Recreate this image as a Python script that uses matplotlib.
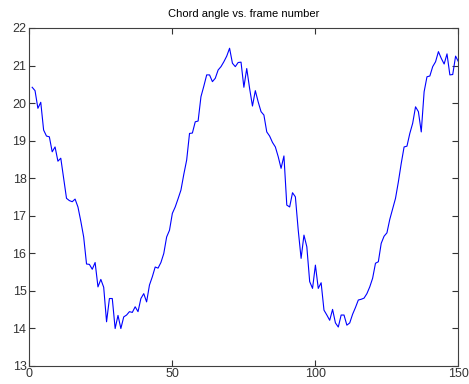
import numpy as np
import matplotlib
matplotlib.use('Agg')
import matplotlib.pyplot as plt

plt.rcParams['font.family'] = ['Liberation Sans', 'DejaVu Sans']

# 帧号和弦角 (从图上读出来的)
frames = np.arange(1, 151)
chord_angle = [
    20.42, 20.33, 19.86, 20.02, 19.28, 19.12, 19.10, 18.70, 18.83, 18.45,
    18.53, 18.00, 17.46, 17.40, 17.37, 17.44, 17.23, 16.85, 16.43, 15.71,
    15.70, 15.57, 15.75, 15.10, 15.30, 15.09, 14.17, 14.79, 14.79, 13.99,
    14.34, 13.99, 14.30, 14.35, 14.44, 14.42, 14.57, 14.44, 14.79, 14.92,
    14.70, 15.15, 15.37, 15.63, 15.60, 15.75, 15.99, 16.43, 16.61, 17.06,
    17.23, 17.45, 17.68, 18.10, 18.48, 19.19, 19.20, 19.50, 19.52, 20.17,
    20.45, 20.75, 20.75, 20.57, 20.66, 20.88, 20.97, 21.10, 21.25, 21.46,
    21.06, 20.97, 21.08, 21.09, 20.42, 20.92, 20.39, 19.92, 20.33, 20.03,
    19.77, 19.68, 19.23, 19.12, 18.95, 18.83, 18.57, 18.26, 18.59, 17.28,
    17.23, 17.61, 17.50, 16.61, 15.86, 16.48, 16.17, 15.24, 15.06, 15.68,
    15.06, 15.21, 14.48, 14.35, 14.21, 14.50, 14.14, 14.03, 14.35, 14.35,
    14.08, 14.14, 14.37, 14.55, 14.75, 14.77, 14.80, 14.92, 15.10, 15.33,
    15.73, 15.77, 16.26, 16.45, 16.54, 16.90, 17.18, 17.46, 17.90, 18.39,
    18.83, 18.85, 19.19, 19.46, 19.90, 19.77, 19.23, 20.30, 20.70, 20.72,
    20.97, 21.10, 21.37, 21.19, 21.04, 21.31, 20.75, 20.76, 21.25, 21.10,
]
x_ticks = [0, 50, 100, 150]
y_ticks = list(range(13, 23))

fig = plt.figure(figsize=(4.69, 3.84), dpi=100)
ax = fig.add_axes([0.0625, 0.0477, 0.915, 0.8794])

ax.plot(frames, chord_angle, color='#0000ff', linewidth=0.8)

ax.set_xlim(0, 150)
ax.set_ylim(13, 22)
ax.set_xticks(x_ticks)
ax.set_yticks(y_ticks)
ax.tick_params(direction='in', length=4, width=0.8, top=True, right=True,
               labelsize=9, colors='#333333', pad=2)
for s in ax.spines.values():
    s.set_color('#404040')
    s.set_linewidth(0.8)

ax.set_title('Chord angle vs. frame number', fontsize=8, pad=8)

fig.savefig('out.png', dpi=100)
